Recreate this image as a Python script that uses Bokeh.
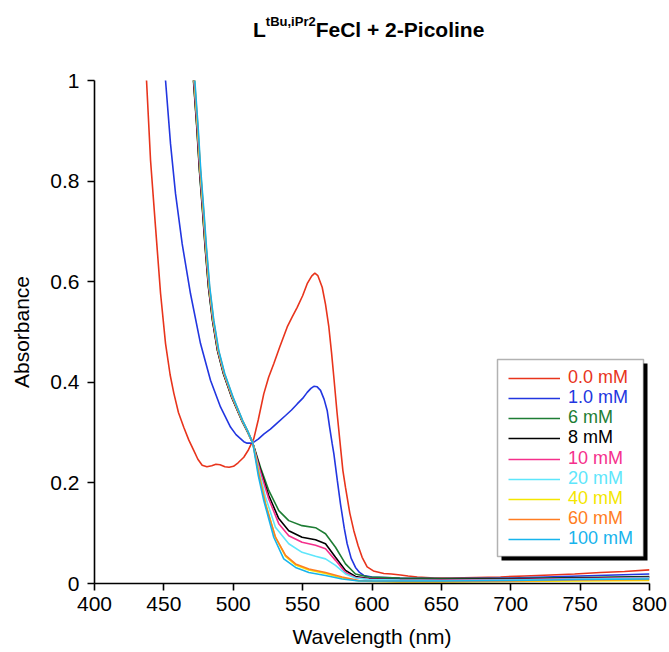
from bokeh.plotting import figure
from bokeh.models import (Range1d, FixedTicker, CustomJSTickFormatter, Div,
                          Legend, LegendItem, BoxAnnotation)
from bokeh.layouts import column
from bokeh.embed import file_html
from bokeh.resources import INLINE

FONT = "Liberation Sans"

# ---------------- data ----------------
x_ticks = [400, 450, 500, 550, 600, 650, 700, 750, 800]
y_ticks = [0, 0.2, 0.4, 0.6, 0.8, 1.0]

series_labels = ["0.0 mM", "1.0 mM", "6 mM", "8 mM", "10 mM",
                 "20 mM", "40 mM", "60 mM", "100 mM"]
series_colors = ["#e8341c", "#2236e0", "#1e7d34", "#000000", "#f5308c",
                 "#5ee6fb", "#f4e600", "#ff7d22", "#17b4ec"]

wl_0mM = [436.0, 437.5, 440.4, 444.0, 447.6, 451.2, 454.5, 457.2, 460.5, 464.4,
          468.0, 471.6, 474.5, 477.6, 481.0, 484.5, 487.5, 490.5, 494.0, 497.0,
          500.2, 503.5, 507.6, 511.0, 514.8, 518.0, 522.0, 525.5, 529.2, 533.5,
          538.9, 542.5, 546.1, 550.0, 553.3, 556.5, 558.8, 561.0, 564.1, 566.5,
          568.9, 570.8, 572.5, 574.8, 577.3, 579.0, 580.9, 584.0, 586.9, 590.0,
          592.9, 596.5, 601.0, 608.5, 614.0, 620.5, 626.0, 632.6, 645.0, 656.6,
          675.0, 692.6, 710.0, 728.6, 746.0, 764.7, 782.0, 800.0]
abs_0mM = [1.03, 1.0, 0.841, 0.708, 0.577, 0.477, 0.415, 0.378, 0.34, 0.31,
           0.285, 0.264, 0.247, 0.235, 0.232, 0.234, 0.237, 0.236, 0.232, 0.231,
           0.233, 0.24, 0.251, 0.266, 0.288, 0.325, 0.377, 0.41, 0.437, 0.47,
           0.51, 0.53, 0.549, 0.572, 0.596, 0.611, 0.617, 0.612, 0.589, 0.555,
           0.51, 0.46, 0.41, 0.34, 0.271, 0.225, 0.191, 0.14, 0.105, 0.075,
           0.052, 0.033, 0.025, 0.02, 0.019, 0.017, 0.015, 0.013, 0.011, 0.011,
           0.012, 0.013, 0.015, 0.017, 0.019, 0.022, 0.024, 0.027]

wl_1mM = [450.0, 451.2, 454.8, 458.4, 463.2, 469.2, 476.4, 483.6, 490.8, 498.0,
          502.0, 505.2, 507.6, 510.0, 512.5, 514.8, 518.0, 522.0, 526.8, 532.0,
          537.7, 542.0, 546.1, 550.0, 553.3, 556.0, 558.1, 560.5, 562.9, 565.5,
          567.7, 569.5, 571.3, 572.5, 575.0, 577.3, 580.0, 582.1, 585.0, 588.1,
          591.0, 594.1, 600.0, 620.0, 650.0, 700.0, 750.0, 800.0]
abs_1mM = [1.03, 1.0, 0.874, 0.775, 0.675, 0.576, 0.477, 0.404, 0.351, 0.311,
           0.296, 0.288, 0.282, 0.279, 0.279, 0.281, 0.287, 0.297, 0.307, 0.32,
           0.334, 0.345, 0.357, 0.368, 0.38, 0.388, 0.392, 0.391, 0.384, 0.366,
           0.344, 0.31, 0.278, 0.258, 0.205, 0.158, 0.11, 0.079, 0.05, 0.032,
           0.022, 0.016, 0.013, 0.011, 0.010, 0.011, 0.015, 0.019]

wl_6mM = [470.6, 471.3, 473.7, 475.6, 477.8, 479.7, 482.1, 485.0, 488.6, 492.9,
          498.9, 506.1, 510.0, 514.1, 519.6, 525.6, 532.8, 540.0,
          549.6, 559.3, 566.5, 573.7, 580.9, 588.1, 597.7, 620.0, 650.0, 700.0,
          750.0, 800.0]
abs_6mM = [1.03, 1.0, 0.907, 0.821, 0.742, 0.669, 0.589, 0.523, 0.463, 0.417,
           0.370, 0.324, 0.303, 0.279, 0.231, 0.185, 0.145, 0.125,
           0.115, 0.111, 0.099, 0.072, 0.039, 0.019, 0.013, 0.011, 0.010, 0.010,
           0.012, 0.014]

wl_8mM = [470.7, 471.4, 473.8, 475.7, 477.9, 479.8, 482.2, 485.1, 488.7, 493.0,
          499.0, 506.2, 510.1, 514.1, 519.6, 525.6, 532.8, 540.0,
          549.6, 559.3, 566.5, 573.7, 580.9, 588.1, 597.7, 620.0, 650.0, 700.0,
          750.0, 800.0]
abs_8mM = [1.03, 1.0, 0.907, 0.821, 0.742, 0.669, 0.589, 0.523, 0.463, 0.417,
           0.370, 0.324, 0.303, 0.279, 0.226, 0.175, 0.129, 0.105,
           0.092, 0.087, 0.079, 0.052, 0.026, 0.014, 0.010, 0.008, 0.008, 0.009,
           0.011, 0.013]

wl_10mM = [470.9, 471.6, 474.0, 475.9, 478.1, 480.0, 482.4, 485.3, 488.9, 493.2,
           499.2, 506.3, 510.2, 514.1, 519.6, 525.6, 532.8, 540.0,
           549.6, 559.3, 566.5, 573.7, 580.9, 588.1, 597.7, 620.0, 650.0, 700.0,
           750.0, 800.0]
abs_10mM = [1.03, 1.0, 0.907, 0.821, 0.742, 0.669, 0.589, 0.523, 0.463, 0.417,
            0.370, 0.324, 0.303, 0.279, 0.222, 0.168, 0.119, 0.095,
            0.082, 0.076, 0.069, 0.046, 0.022, 0.012, 0.009, 0.007, 0.007, 0.008,
            0.010, 0.012]

wl_20mM = [471.2, 471.9, 474.3, 476.2, 478.4, 480.3, 482.7, 485.6, 489.2, 493.5,
           499.5, 506.5, 510.3, 514.1, 518.5, 523.2, 530.4, 540.0,
           549.6, 559.3, 566.5, 573.7, 580.9, 588.1, 597.7, 620.0, 650.0, 700.0,
           750.0, 800.0]
abs_20mM = [1.03, 1.0, 0.907, 0.821, 0.742, 0.669, 0.589, 0.523, 0.463, 0.417,
            0.370, 0.324, 0.303, 0.279, 0.225, 0.172, 0.112, 0.079,
            0.062, 0.054, 0.049, 0.036, 0.019, 0.011, 0.008, 0.007, 0.006, 0.007,
            0.009, 0.011]

wl_40mM = [471.3, 472.0, 474.4, 476.3, 478.5, 480.4, 482.8, 485.7, 489.3, 493.6,
           499.6, 506.6, 510.4, 514.1, 518.5, 523.2, 530.4, 537.7,
           544.9, 554.5, 566.5, 578.5, 590.5, 600.0, 620.0, 650.0, 700.0, 750.0,
           800.0]
abs_40mM = [1.03, 1.0, 0.907, 0.821, 0.742, 0.669, 0.589, 0.523, 0.463, 0.417,
            0.370, 0.324, 0.303, 0.279, 0.218, 0.16, 0.092, 0.054,
            0.037, 0.027, 0.020, 0.011, 0.005, 0.004, 0.003, 0.003, 0.004, 0.005,
            0.006]

wl_60mM = [471.4, 472.1, 474.5, 476.4, 478.6, 480.5, 482.9, 485.8, 489.4, 493.7,
           499.7, 506.7, 510.4, 514.1, 518.5, 523.2, 530.4, 537.7,
           544.9, 554.5, 566.5, 578.5, 590.5, 600.0, 620.0, 650.0, 700.0, 750.0,
           800.0]
abs_60mM = [1.03, 1.0, 0.907, 0.821, 0.742, 0.669, 0.589, 0.523, 0.463, 0.417,
            0.370, 0.324, 0.303, 0.279, 0.216, 0.158, 0.092, 0.056,
            0.039, 0.029, 0.022, 0.013, 0.006, 0.005, 0.004, 0.004, 0.005, 0.007,
            0.008]

wl_100mM = [471.6, 472.3, 474.7, 476.6, 478.8, 480.7, 483.1, 486.0, 489.6, 493.9,
            499.9, 506.8, 510.5, 514.1, 518.0, 522.0, 529.2, 536.4,
            544.9, 554.5, 566.5, 578.5, 590.5, 600.0, 620.0, 650.0, 700.0, 750.0,
            800.0]
abs_100mM = [1.03, 1.0, 0.907, 0.821, 0.742, 0.669, 0.589, 0.523, 0.463, 0.417,
             0.370, 0.324, 0.303, 0.279, 0.215, 0.165, 0.092, 0.049,
             0.032, 0.022, 0.016, 0.009, 0.005, 0.005, 0.005, 0.005, 0.006, 0.008,
             0.009]

series_wl = [wl_0mM, wl_1mM, wl_6mM, wl_8mM, wl_10mM, wl_20mM, wl_40mM, wl_60mM, wl_100mM]
series_abs = [abs_0mM, abs_1mM, abs_6mM, abs_8mM, abs_10mM, abs_20mM, abs_40mM, abs_60mM, abs_100mM]

# ---------------- layout sizes ----------------
W, H = 669, 652
TITLE_H = 50
ML, MR, MT, MB = 94, 20, 30, 69
FRAME_BOTTOM = H - MB       # canvas y of the frame bottom (583)

# ---------------- title (HTML, with a real superscript) ----------------
title_html = (
    '<div style="margin:0; padding:19px 0 0 253px; font-family:\'Liberation Sans\', Arial, sans-serif; '
    'font-size:21px; font-weight:bold; line-height:21px; white-space:nowrap; color:black;">'
    'L<sup style="font-size:13px; vertical-align:11px; line-height:0;">tBu,iPr2</sup>'
    'FeCl + 2-Picoline</div>'
)
title = Div(text=title_html, width=W, height=TITLE_H, margin=0)

# ---------------- figure ----------------
p = figure(width=W, height=H - TITLE_H, x_range=Range1d(400, 800), y_range=Range1d(0, 1),
           output_backend="svg", toolbar_location=None,
           min_border_left=ML, min_border_right=MR, min_border_top=MT, min_border_bottom=MB)
p.background_fill_color = "white"
p.border_fill_color = "white"
p.outline_line_color = None
p.grid.visible = False

renderers = []
for wl, ab, col in zip(series_wl, series_abs, series_colors):
    r = p.line(wl, ab, line_color=col, line_width=1.6)
    renderers.append(r)

# axes
p.xaxis.ticker = FixedTicker(ticks=x_ticks)
p.yaxis.ticker = FixedTicker(ticks=y_ticks)
p.yaxis.formatter = CustomJSTickFormatter(code="return String(Math.round(tick*10)/10);")
for ax in (p.xaxis[0], p.yaxis[0]):
    ax.axis_line_color = "black"
    ax.axis_line_width = 1.6
    ax.major_tick_line_color = "black"
    ax.major_tick_line_width = 1.6
    ax.major_tick_in = 0
    ax.major_tick_out = 7
    ax.minor_tick_in = 0
    ax.minor_tick_out = 0
    ax.major_label_text_font = FONT
    ax.major_label_text_font_size = "21px"
    ax.major_label_text_color = "black"
    ax.axis_label_text_font = FONT
    ax.axis_label_text_font_size = "21px"
    ax.axis_label_text_font_style = "normal"
    ax.axis_label_text_color = "black"
p.xaxis.axis_label = "Wavelength (nm)"
p.yaxis.axis_label = "Absorbance"
p.xaxis.major_label_standoff = 6
p.xaxis.axis_label_standoff = 11
p.yaxis.major_label_standoff = 8
p.yaxis.axis_label_standoff = 14

# ---------------- helpers: canvas pixel -> frame screen units ----------------
def sx(px):
    return px - ML

def sy(py):
    return FRAME_BOTTOM - py

# ---------------- legend box with shadow ----------------
box_l, box_r, box_t, box_b = 497, 643, 359, 556
sh = 4
p.add_layout(BoxAnnotation(left=sx(box_l + sh), right=sx(box_r + sh), top=sy(box_t + sh), bottom=sy(box_b + sh),
                           left_units="screen", right_units="screen", top_units="screen", bottom_units="screen",
                           fill_color="black", fill_alpha=1.0, line_color=None))
p.add_layout(BoxAnnotation(left=sx(box_l), right=sx(box_r), top=sy(box_t), bottom=sy(box_b),
                           left_units="screen", right_units="screen", top_units="screen", bottom_units="screen",
                           fill_color="white", fill_alpha=1.0, line_color="black", line_width=1.5))

row_centers = [378, 398, 418, 438, 459, 479, 499, 519, 539]
for lab, col, r, c in zip(series_labels, series_colors, renderers, row_centers):
    leg = Legend(items=[LegendItem(label=lab, renderers=[r])],
                 location=(sx(508), sy(c + 10)),
                 padding=0, margin=0, spacing=0,
                 border_line_color=None, background_fill_alpha=0,
                 glyph_width=52, glyph_height=20, label_height=20, label_standoff=8,
                 label_text_font=FONT, label_text_font_size="18px",
                 label_text_color=col)
    p.add_layout(leg, "center")

layout = column(title, p, spacing=0)
open("out.html", "w").write(file_html(layout, INLINE))
